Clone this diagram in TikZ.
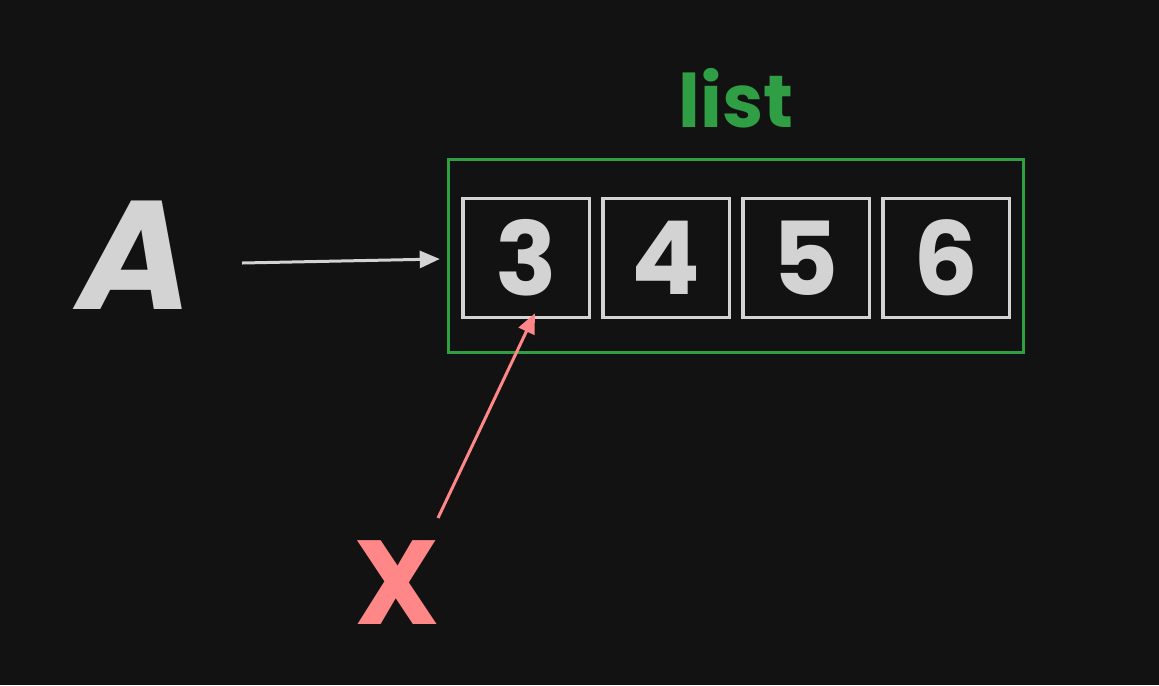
\documentclass[tikz,border=0pt]{standalone}
\usepackage{fontspec}
\setmainfont{Poppins}
\usetikzlibrary{positioning,arrows.meta}
\definecolor{bgdark}{HTML}{121212}
\definecolor{cellgray}{HTML}{D3D3D3}
\definecolor{listgreen}{HTML}{2F9E44}
\definecolor{ptrred}{HTML}{FF8787}
\tikzset{
  cell/.style={draw=cellgray,line width=0.07cm,minimum width=2.53cm,minimum height=2.38cm,inner sep=0pt,text=cellgray,font=\fontsize{58pt}{58pt}\selectfont\bfseries},
  ptr/.style={line width=0.06cm,-{Triangle[length=0.4cm,width=0.34cm]}}
}
\begin{document}
\begin{tikzpicture}
  \fill[bgdark] (0,0) rectangle (23.18,-13.70);
  \useasboundingbox (0,0) rectangle (23.18,-13.70);
  % the list frame and its name
  \node[draw=listgreen,line width=0.07cm,minimum width=11.5cm,minimum height=3.86cm] (list) at (14.72,-5.12) {};
  \node[text=listgreen,font=\fontsize{42pt}{42pt}\selectfont\bfseries] (title) at (14.72,-1.96) {list};
  % cells
  \node[cell] (c3) at (10.52,-5.16) {3};
  \node[cell,right=0.2cm of c3] (c4) {4};
  \node[cell,right=0.2cm of c4] (c5) {5};
  \node[cell,right=0.2cm of c5] (c6) {6};
  % names pointing in
  \node[text=cellgray,font=\fontsize{88pt}{88pt}\selectfont\bfseries\itshape] (A) at (2.70,-5.10) {A};
  \node[text=ptrred,font=\fontsize{68pt}{68pt}\selectfont\bfseries] (X) at (7.94,-11.66) {X};
  \coordinate (atail) at (4.84,-5.26);
  \coordinate (xtail) at (8.76,-10.36);
  \draw[cellgray,ptr] (atail) -- ([xshift=-0.14cm,yshift=-0.06cm]list.west);
  \draw[ptrred,ptr] (xtail) -- ([xshift=0.18cm,yshift=0.12cm]c3.south);
\end{tikzpicture}
\end{document}
